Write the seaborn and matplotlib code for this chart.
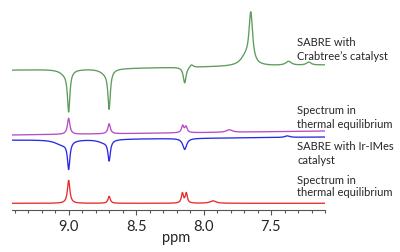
import numpy as np
import pandas as pd
import matplotlib
matplotlib.use("Agg")
import matplotlib.pyplot as plt
import seaborn as sns
from matplotlib.ticker import MultipleLocator

# ---- spectra as peak lists: (centre ppm, amplitude, FWHM ppm) ----
# offsets are the baseline heights (left end, right end) of each trace
green_base = (140, 145)
green_peaks = [(9.00, -40, 0.022), (9.03, -4, 0.09),
               (8.70, -38, 0.022), (8.73, -4, 0.09),
               (8.14, -16, 0.025), (8.09, 3, 0.03),
               (7.65, 50, 0.032), (7.69, 8, 0.09),
               (7.37, 4, 0.05), (7.22, 3, 0.04)]

pink_base = (75, 79)
pink_peaks = [(9.00, 16, 0.022), (8.70, 10, 0.022),
              (8.155, 7, 0.020), (8.13, 6, 0.020), (7.81, 2.5, 0.05)]

blue_base = (70, 73)
blue_peaks = [(9.00, -27, 0.022), (9.05, -5, 0.12),
              (8.70, -20, 0.022), (8.74, -3, 0.10),
              (8.14, -11, 0.035), (7.38, 1.5, 0.04)]

red_base = (6.7, 6.7)
red_peaks = [(9.00, 23, 0.022), (8.70, 7, 0.02),
             (8.157, 10, 0.018), (8.128, 10, 0.018), (7.93, 2.5, 0.05)]

labels = [("SABRE with", "Crabtree\u2019s catalyst"),
          ("Spectrum in", "thermal equilibrium"),
          ("SABRE with Ir-IMes", "catalyst"),
          ("Spectrum in", "thermal equilibrium")]
label_y = [(168, 153), (100, 85), (64, 50), (30, 17)]
colors = ["#5c9c5c", "#b84cc4", "#2a2ae6", "#e62c2c"]

ppm = np.linspace(9.42, 7.10, 1200)


def trace(base, peaks):
    y = np.interp(ppm, [7.10, 9.42], [base[1], base[0]])
    for c, a, w in peaks:
        y = y + a / (1 + ((ppm - c) / (w / 2)) ** 2)
    return y


series = [("green", green_base, green_peaks), ("pink", pink_base, pink_peaks),
          ("blue", blue_base, blue_peaks), ("red", red_base, red_peaks)]
df = pd.concat([pd.DataFrame({"ppm": ppm, "y": trace(b, p), "s": n})
                for n, b, p in series])

sns.set_style("white")
plt.rcParams["font.family"] = ["Lato", "DejaVu Sans"]

fig = plt.figure(figsize=(4, 2.52), dpi=100)
ax = fig.add_axes([12 / 400, 42 / 252, 313 / 400, 210 / 252])
sns.lineplot(data=df, x="ppm", y="y", hue="s", palette=colors,
             linewidth=0.95, legend=False, sort=False, ax=ax)

ax.set_xlim(9.42, 7.10)
ax.set_ylim(0, 210)
for s in ["left", "top", "right"]:
    ax.spines[s].set_visible(False)
ax.spines["bottom"].set_color("#555555")
ax.spines["bottom"].set_linewidth(0.8)
ax.set_yticks([])
ax.xaxis.set_major_locator(MultipleLocator(0.5))
ax.xaxis.set_minor_locator(MultipleLocator(0.1))
ax.tick_params(axis="x", which="both", direction="out", bottom=True,
               color="#555555", labelsize=10.5, pad=4)
ax.tick_params(axis="x", which="major", length=3.5, width=0.8)
ax.tick_params(axis="x", which="minor", length=2.5, width=0.8)
ax.set_xticklabels([f"{t:.1f}" for t in ax.get_xticks()])
ax.set_xlabel("")
ax.set_ylabel("")
ax.text(8.2, -28, "ppm", ha="center", va="center", fontsize=10.5,
        clip_on=False)

for (l1, l2), (y1, y2) in zip(labels, label_y):
    ax.text(7.305, y1, l1, ha="left", va="center", fontsize=8, clip_on=False)
    ax.text(7.305, y2, l2, ha="left", va="center", fontsize=8, clip_on=False)

fig.savefig("out.png", dpi=100)
